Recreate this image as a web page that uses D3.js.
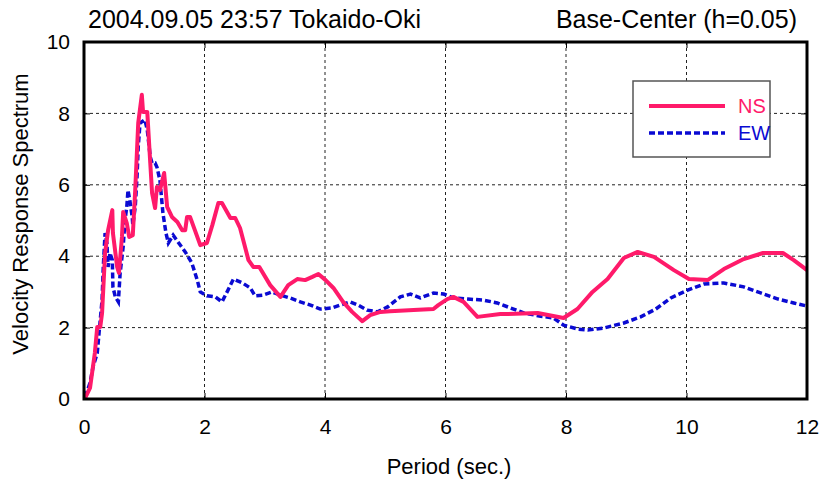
<!DOCTYPE html>
<html>
<head>
<meta charset="utf-8">
<script src="https://cdn.jsdelivr.net/npm/d3@7"></script>
<style>
  body { margin: 0; background: #fff; }
  text { font-family: "Liberation Sans", Arial, sans-serif; }
</style>
</head>
<body>
<script>
// periods (sec) and velocity response values
var nsPeriod = [0.02,0.10,0.18,0.22,0.27,0.30,0.35,0.40,0.47,0.48,0.55,0.58,0.63,0.65,0.71,0.75,0.81,0.85,0.90,0.96,0.98,1.05,1.10,1.13,1.18,1.21,1.26,1.33,1.38,1.46,1.55,1.63,1.68,1.71,1.76,1.84,1.93,2.04,2.13,2.23,2.29,2.43,2.51,2.59,2.73,2.81,2.91,3.09,3.26,3.39,3.54,3.67,3.79,3.89,4.01,4.14,4.30,4.45,4.62,4.75,4.92,5.08,5.47,5.80,5.88,6.03,6.13,6.30,6.53,6.91,7.03,7.53,7.96,8.19,8.44,8.69,8.96,9.19,9.46,9.79,10.04,10.35,10.62,10.95,11.27,11.60,11.78,12.0];
var nsValue = [0.03,0.31,1.29,2.02,2.02,2.41,4.09,4.73,5.29,4.65,3.70,3.53,4.54,5.24,4.93,4.54,4.59,5.85,7.73,8.52,8.04,8.04,6.61,5.77,5.35,5.94,5.85,6.33,5.38,5.10,4.96,4.73,4.73,5.10,5.10,4.73,4.31,4.37,4.87,5.49,5.49,5.07,5.07,4.79,3.89,3.70,3.70,3.19,2.86,3.19,3.36,3.33,3.42,3.50,3.33,3.11,2.72,2.44,2.18,2.35,2.44,2.46,2.49,2.52,2.63,2.80,2.86,2.72,2.30,2.38,2.38,2.41,2.27,2.52,3.00,3.36,3.95,4.12,3.98,3.61,3.36,3.33,3.64,3.92,4.09,4.09,3.89,3.61];

var ewPeriod = [0.02,0.10,0.15,0.22,0.25,0.30,0.32,0.35,0.38,0.40,0.43,0.47,0.48,0.52,0.57,0.60,0.65,0.68,0.71,0.73,0.76,0.80,0.81,0.85,0.88,0.90,0.93,1.01,1.05,1.10,1.13,1.18,1.21,1.26,1.31,1.36,1.40,1.48,1.56,1.68,1.79,1.88,1.93,2.04,2.18,2.29,2.39,2.48,2.63,2.76,2.84,2.97,3.12,3.26,3.42,3.59,3.76,3.92,4.12,4.25,4.42,4.55,4.70,4.87,5.04,5.25,5.42,5.58,5.80,5.97,6.13,6.37,6.63,6.86,7.08,7.30,7.58,7.79,7.96,8.19,8.36,8.63,8.96,9.24,9.49,9.74,10.02,10.29,10.62,10.95,11.23,11.52,11.78,11.98];
var ewValue = [0.06,0.45,0.90,1.29,1.85,2.77,3.70,4.65,4.37,3.70,4.09,3.89,3.14,2.86,2.72,3.53,4.26,5.01,5.38,5.85,5.57,5.10,4.87,5.38,6.22,7.06,7.73,7.82,7.54,6.78,6.61,6.61,6.50,6.13,5.21,4.65,4.37,4.59,4.40,4.12,3.81,3.33,3.00,2.89,2.86,2.72,3.05,3.36,3.25,3.11,2.89,2.91,3.00,2.91,2.83,2.72,2.63,2.52,2.55,2.63,2.72,2.63,2.49,2.44,2.58,2.86,2.94,2.83,2.97,2.94,2.83,2.80,2.77,2.69,2.55,2.41,2.32,2.27,2.07,1.96,1.93,1.99,2.13,2.30,2.52,2.83,3.05,3.22,3.25,3.14,2.97,2.80,2.69,2.61];

var seriesNames = ["NS", "EW"];
var xTicks = [0, 2, 4, 6, 8, 10, 12];
var yTicks = [0, 2, 4, 6, 8, 10];

var svgWidth = 822;
var svgHeight = 480;
var margin = { top: 42, right: 15, bottom: 80, left: 84 };
var chartWidth = 807 - margin.left;
var chartHeight = 399 - margin.top;

var svg = d3.select("body")
    .append("svg")
    .attr("width", svgWidth)
    .attr("height", svgHeight);

var chartGroup = svg.append("g")
    .attr("transform", `translate(${margin.left},${margin.top})`);

var xScale = d3.scaleLinear().domain([0, 12]).range([0, chartWidth]);
var yScale = d3.scaleLinear().domain([0, 10]).range([chartHeight, 0]);

// dashed grid
chartGroup.append("g")
    .selectAll("line")
    .data(xTicks.slice(1, -1))
    .enter()
    .append("line")
    .attr("x1", d => xScale(d)).attr("x2", d => xScale(d))
    .attr("y1", 0).attr("y2", chartHeight)
    .attr("stroke", "#222").attr("stroke-width", 1)
    .attr("stroke-dasharray", "3,3");

chartGroup.append("g")
    .selectAll("line")
    .data(yTicks.slice(1, -1))
    .enter()
    .append("line")
    .attr("y1", d => yScale(d)).attr("y2", d => yScale(d))
    .attr("x1", 0).attr("x2", chartWidth)
    .attr("stroke", "#222").attr("stroke-width", 1)
    .attr("stroke-dasharray", "3,3");

// axes with inward ticks on all sides
var bottomAxis = d3.axisBottom(xScale).tickValues(xTicks).tickSize(-6).tickPadding(20).tickFormat(d3.format("d"));
var topAxis = d3.axisTop(xScale).tickValues(xTicks).tickSize(-6).tickFormat("");
var leftAxis = d3.axisLeft(yScale).tickValues(yTicks).tickSize(-6).tickPadding(14).tickFormat(d3.format("d"));
var rightAxis = d3.axisRight(yScale).tickValues(yTicks).tickSize(-6).tickFormat("");

function styleAxis(g) {
    g.select(".domain").remove();
    g.selectAll(".tick line").attr("stroke", "#000").attr("stroke-width", 1);
    g.selectAll(".tick text")
        .attr("font-family", "Liberation Sans, Arial, sans-serif")
        .attr("font-size", 21)
        .attr("fill", "#000");
}

chartGroup.append("g").attr("transform", `translate(0, ${chartHeight})`).call(bottomAxis).call(styleAxis);
chartGroup.append("g").call(topAxis).call(styleAxis);
chartGroup.append("g").call(leftAxis).call(styleAxis);
chartGroup.append("g").attr("transform", `translate(${chartWidth}, 0)`).call(rightAxis).call(styleAxis);

// curves
svg.append("clipPath").attr("id", "plotClip")
    .append("rect").attr("width", chartWidth).attr("height", chartHeight);

var line = d3.line()
    .x(d => xScale(d[0]))
    .y(d => yScale(d[1]));

var nsData = nsPeriod.map((p, i) => [p, nsValue[i]]);
var ewData = ewPeriod.map((p, i) => [p, ewValue[i]]);

var curves = chartGroup.append("g").attr("clip-path", "url(#plotClip)");

curves.append("path")
    .datum(ewData)
    .attr("d", line)
    .attr("fill", "none")
    .attr("stroke", "#0a0ad2")
    .attr("stroke-width", 3.5)
    .attr("stroke-dasharray", "6,3");

curves.append("path")
    .datum(nsData)
    .attr("d", line)
    .attr("fill", "none")
    .attr("stroke", "#ff1a6a")
    .attr("stroke-width", 4)
    .attr("stroke-linejoin", "round");

// frame
chartGroup.append("rect")
    .attr("width", chartWidth)
    .attr("height", chartHeight)
    .attr("fill", "none")
    .attr("stroke", "#000")
    .attr("stroke-width", 3);

// legend
var legend = chartGroup.append("g").attr("transform", `translate(${633 - margin.left}, ${81 - margin.top})`);
legend.append("rect")
    .attr("width", 137).attr("height", 76)
    .attr("fill", "#fff")
    .attr("stroke", "#555").attr("stroke-width", 1.5);
var legendColors = ["#ff1a6a", "#0a0ad2"];
seriesNames.forEach(function (name, i) {
    var ly = 25 + i * 27;
    legend.append("line")
        .attr("x1", 16).attr("x2", 92)
        .attr("y1", ly).attr("y2", ly)
        .attr("stroke", legendColors[i])
        .attr("stroke-width", i === 0 ? 4 : 3.5)
        .attr("stroke-dasharray", i === 0 ? null : "6,3");
    legend.append("text")
        .attr("x", 105).attr("y", ly)
        .attr("dy", "0.36em")
        .attr("font-size", 20)
        .attr("fill", legendColors[i])
        .text(name);
});

// titles
svg.append("text")
    .attr("x", 88).attr("y", 28)
    .attr("font-size", 25)
    .text("2004.09.05 23:57 Tokaido-Oki");

svg.append("text")
    .attr("x", 797).attr("y", 28)
    .attr("text-anchor", "end")
    .attr("font-size", 25)
    .text("Base-Center (h=0.05)");

svg.append("text")
    .attr("transform", "rotate(-90)")
    .attr("x", -214).attr("y", 28)
    .attr("text-anchor", "middle")
    .attr("font-size", 22)
    .text("Velocity Response Spectrum");

svg.append("text")
    .attr("x", 449).attr("y", 474)
    .attr("text-anchor", "middle")
    .attr("font-size", 22)
    .text("Period (sec.)");
</script>
</body>
</html>
